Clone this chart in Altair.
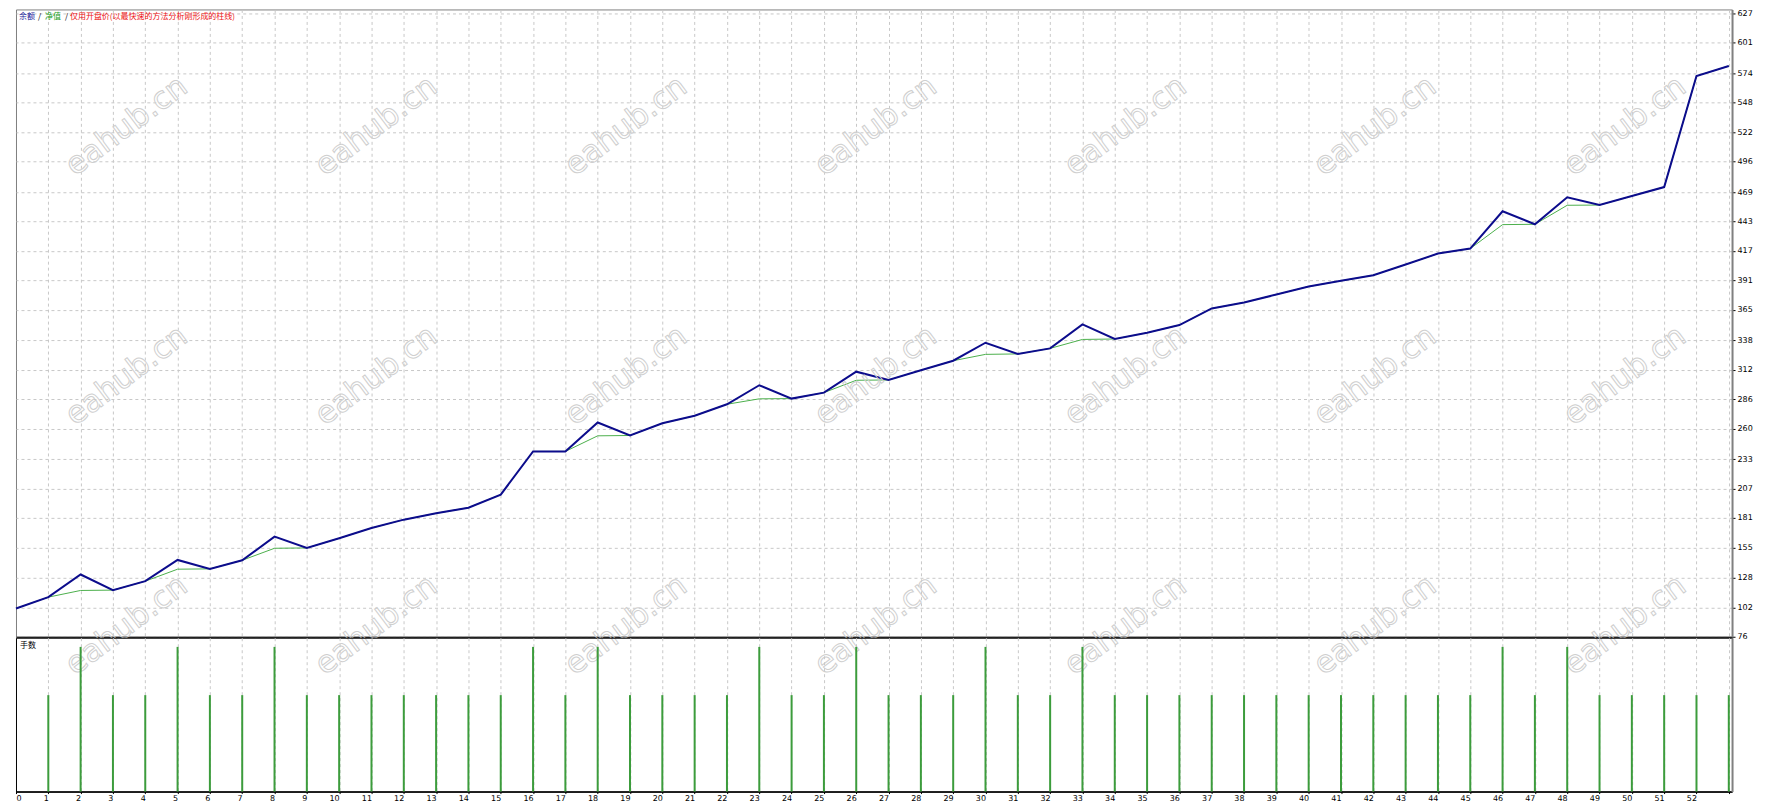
import altair as alt
import pandas as pd

# ---------------- data ----------------
trade_index = list(range(54))
balance = [101, 111, 131, 117.2, 125.1, 143.9, 136, 143.6, 164.5, 154.5,
           163, 172.1, 179.5, 185.1, 190.1, 201.6, 239.8, 239.8, 265.4, 253.9,
           264.7, 271.3, 281.5, 298.3, 286.5, 291.8, 310.3, 303.0, 311.5, 320.0,
           335.9, 326.0, 330.9, 352.1, 339.2, 344.7, 351.5, 366.2, 371.5, 378.5,
           385.6, 390.6, 395.6, 405.0, 414.7, 419.1, 452.1, 440.6, 464.5, 457.6,
           465.6, 473.5, 571.7, 580.5]
equity = [101, 111, 116.9, 117.2, 125.1, 135.7, 136, 143.6, 154.2, 154.5,
          163, 172.1, 179.5, 185.1, 190.1, 201.6, 239.8, 239.8, 253.6, 253.9,
          264.7, 271.3, 281.5, 286.3, 286.5, 291.8, 302.7, 303.0, 311.5, 320.0,
          325.6, 326.0, 330.9, 338.8, 339.2, 344.7, 351.5, 366.2, 371.5, 378.5,
          385.6, 390.6, 395.6, 405.0, 414.7, 419.1, 440.3, 440.6, 457.4, 457.6,
          465.6, 473.5, 571.7, 580.5]
lot_trades = list(range(1, 54))
lots = [0.02, 0.03, 0.02, 0.02, 0.03, 0.02, 0.02, 0.03, 0.02, 0.02,
        0.02, 0.02, 0.02, 0.02, 0.02, 0.03, 0.02, 0.03, 0.02, 0.02,
        0.02, 0.02, 0.03, 0.02, 0.02, 0.03, 0.02, 0.02, 0.02, 0.03,
        0.02, 0.02, 0.03, 0.02, 0.02, 0.02, 0.02, 0.02, 0.02, 0.02,
        0.02, 0.02, 0.02, 0.02, 0.02, 0.03, 0.02, 0.03, 0.02, 0.02,
        0.02, 0.02, 0.02]
y_tick_labels = [76, 102, 128, 155, 181, 207, 233, 260, 286, 312, 338,
                 365, 391, 417, 443, 469, 496, 522, 548, 574, 601, 627]
x_grid_values = list(range(54))

legend_parts = ["余额", "/", "净值", "/", "仅用开盘价(以最快速的方法分析刚形成的柱线)"]
lower_title = "手数"
watermark_text = "eahub.cn"

df = pd.DataFrame({"n": trade_index, "balance": balance, "equity": equity})
lot_df = pd.DataFrame({"n": lot_trades, "lots": lots})

# ---------------- styling ----------------
W = 1718
H_TOP = 628
H_BOT = 154
GRID = "#c8c8c8"
DASH = [3, 3]
FONT = "DejaVu Sans"
CJK = "Noto Sans CJK SC"
HIDE_ZERO = {"condition": {"test": "datum.value == 0", "value": 0}, "value": 1}

# watermark tiling (decoration, pixel layout)
wm_rows = []
for r in range(3):
    for c in range(7):
        wm_rows.append({"t": watermark_text, "px": 111 + 250 * c, "py": 117 + 250 * r})
wm_df = pd.DataFrame(wm_rows)

xscale = alt.Scale(domain=[0, 53.1], nice=False, zero=False)

x_top = alt.X("n:Q", scale=xscale,
              axis=alt.Axis(values=x_grid_values, grid=True, gridColor=GRID, gridDash=DASH,
                            gridOpacity=HIDE_ZERO,
                            labels=False, ticks=False, domain=True, domainColor="#000000",
                            domainWidth=1, title=None))
y_axis_top = alt.Axis(orient="right", values=y_tick_labels, grid=True, gridColor=GRID,
                      gridDash=DASH, tickSize=3, tickColor="#000000", labelFontSize=8,
                      labelFont=FONT, labelColor="#000000", labelPadding=2,
                      domainColor="#808080", domainWidth=2, title=None,
                      labelAlign="left", labelBaseline="middle")
yscale_top = alt.Scale(domain=[76, 630.5], nice=False, zero=False)

watermarks = alt.Chart(wm_df).mark_text(
    font=FONT, fontSize=31, angle=323, align="center", baseline="middle",
    stroke="#cfcfcf", strokeWidth=1, fillOpacity=0
).encode(x=alt.X("px:Q", scale=None), y=alt.Y("py:Q", scale=None), text="t:N")

eq_line = alt.Chart(df).mark_line(color="#4cb04c", strokeWidth=1).encode(
    x=x_top, y=alt.Y("equity:Q", scale=yscale_top, axis=y_axis_top))
bal_line = alt.Chart(df).mark_line(color="#0c0c8c", strokeWidth=2).encode(
    x=x_top, y=alt.Y("balance:Q", scale=yscale_top, axis=y_axis_top))

legend_colors = ["#1a1a9a", "#000000", "#1aa01a", "#000000", "#ee1111"]
legend_x = [3, 22, 29, 49, 54]
legend_layers = []
for part, col, px in zip(legend_parts, legend_colors, legend_x):
    legend_layers.append(
        alt.Chart(pd.DataFrame({"t": [part]})).mark_text(
            align="left", baseline="middle", fontSize=8, font=CJK, color=col
        ).encode(x=alt.value(px), y=alt.value(8), text="t:N")
    )

top = alt.layer(eq_line, bal_line, watermarks, *legend_layers).properties(
    width=W, height=H_TOP, view=alt.ViewBackground(stroke="#808080"))

x_bot = alt.X("n:Q", scale=xscale,
              axis=alt.Axis(values=x_grid_values, grid=True, gridColor=GRID, gridDash=DASH,
                            gridOpacity=HIDE_ZERO,
                            labelExpr="datum.value >= 53 ? '' : datum.label",
                            labelAlign={"condition": {"test": "datum.value == 0", "value": "left"},
                                        "value": "right"},
                            tickSize=2, tickColor="#000000", labelPadding=1,
                            labelFontSize=8, labelFont=FONT, labelColor="#000000",
                            domainColor="#000000", domainWidth=1.5, title=None))
bars = alt.Chart(lot_df).mark_rule(color="#3c9c3c", strokeWidth=2).encode(
    x=x_bot,
    y=alt.Y("lots:Q", scale=alt.Scale(domain=[0, 0.0319], nice=False, zero=True),
            axis=alt.Axis(orient="right", labels=False, ticks=False, grid=False,
                          domainColor="#808080", domainWidth=2, title=None)),
    y2=alt.datum(0),
)
lot_label = alt.Chart(pd.DataFrame({"t": [lower_title]})).mark_text(
    align="left", baseline="middle", fontSize=8, font=CJK, color="#000000"
).encode(x=alt.value(4), y=alt.value(8.5), text="t:N")

bottom = alt.layer(bars, lot_label).properties(
    width=W, height=H_BOT, view=alt.ViewBackground(stroke="#000000"))

chart = alt.vconcat(top, bottom, spacing=1, bounds="flush").properties(
    padding={"left": 3, "top": 0, "right": 5, "bottom": 0},
    background="#ffffff",
)

chart.save("out.html", embed_options={"renderer": "svg", "actions": False})
